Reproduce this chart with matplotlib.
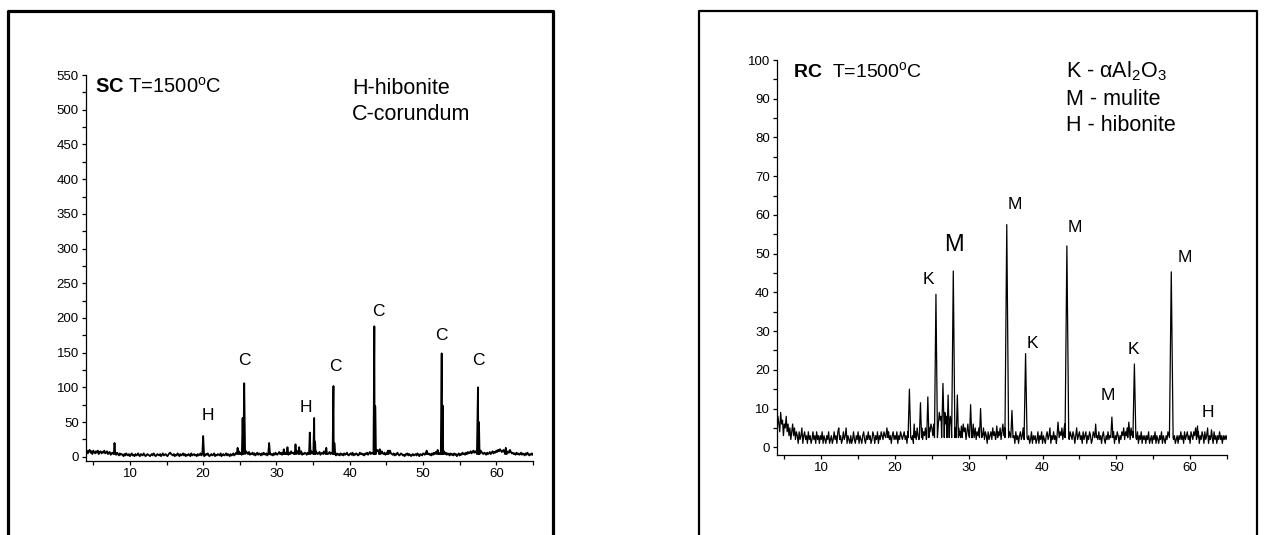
import numpy as np
import matplotlib.pyplot as plt
from matplotlib.lines import Line2D
from matplotlib.ticker import MultipleLocator

plt.rcParams['font.family'] = 'Liberation Sans'
plt.rcParams['mathtext.fontset'] = 'custom'
plt.rcParams['mathtext.rm'] = 'Liberation Sans'
plt.rcParams['mathtext.bf'] = 'Liberation Sans:bold'
plt.rcParams['mathtext.default'] = 'regular'

# 2-theta grid of the background readings
two_theta = np.arange(4.0, 65.001, 0.125)

# SC sample, background counts (4.000 .. 65.000 step 0.125)
sc_base = [
    7, 9, 5, 8, 10, 6, 8, 4, 9, 7, 5, 8, 6, 9, 4, 7, 8, 5, 7, 6, 9, 5, 6, 8, 4, 6, 7, 3, 5, 6, 4, 7, 5, 3, 6, 4, 2, 5, 3, 4,
    3, 1, 4, 2, 5, 3, 2, 4, 1, 3, 5, 2, 3, 1, 4, 2, 3, 5, 2, 1, 4, 3, 2, 5, 3, 1, 2, 4, 3, 2, 1, 3, 4, 2, 5, 3, 1, 2, 4, 3,
    2, 4, 1, 3, 5, 2, 3, 4, 2, 1, 3, 5, 6, 4, 3, 2, 4, 1, 3, 2, 5, 3, 1, 4, 2, 3, 5, 2, 4, 1, 3, 2, 4, 3, 1, 5, 2, 3, 4, 2,
    3, 1, 4, 2, 3, 5, 2, 4, 3, 1, 2, 4, 3, 5, 2, 1, 3, 4, 2, 3, 5, 1, 3, 2, 4, 3, 2, 5, 1, 3, 4, 2, 3, 5, 2, 4, 3, 1, 4, 2,
    3, 5, 2, 4, 6, 3, 5, 8, 4, 6, 3, 5, 7, 4, 6, 8, 5, 4, 7, 3, 5, 4, 6, 3, 5, 2, 4, 6, 3, 5, 4, 2, 5, 3, 6, 4, 3, 5, 2, 4,
    6, 5, 3, 4, 2, 5, 3, 6, 4, 3, 5, 7, 4, 6, 3, 5, 8, 6, 4, 7, 5, 3, 6, 4, 8, 5, 6, 4, 7, 5, 9, 6, 4, 7, 5, 8, 3, 5, 4, 6,
    5, 3, 6, 4, 7, 5, 8, 6, 7, 9, 12, 8, 6, 4, 5, 7, 3, 5, 6, 4, 8, 5, 6, 9, 4, 5, 7, 4, 6, 5, 3, 6, 4, 2, 5, 3, 4, 2, 5, 3,
    4, 2, 5, 3, 4, 6, 3, 2, 4, 5, 3, 6, 2, 4, 3, 5, 4, 2, 3, 6, 4, 5, 3, 4, 2, 5, 4, 6, 3, 5, 7, 4, 6, 5, 8, 6, 9, 7, 10, 8,
    9, 7, 6, 8, 5, 4, 6, 3, 5, 7, 6, 8, 9, 5, 4, 3, 5, 2, 4, 3, 6, 4, 2, 3, 5, 4, 2, 3, 1, 4, 3, 5, 2, 4, 3, 1, 3, 4, 2, 3,
    4, 2, 5, 3, 1, 4, 3, 2, 5, 4, 3, 6, 2, 4, 5, 3, 4, 2, 5, 3, 6, 4, 7, 5, 8, 6, 4, 5, 3, 7, 5, 8, 4, 6, 3, 5, 4, 2, 5, 3,
    4, 2, 5, 3, 4, 1, 3, 5, 2, 4, 3, 6, 4, 5, 3, 6, 4, 7, 5, 6, 8, 5, 7, 9, 6, 8, 7, 10, 12, 8, 6, 9, 7, 5, 4, 6, 5, 3, 6, 4,
    5, 7, 4, 6, 8, 5, 7, 6, 9, 7, 10, 8, 11, 9, 7, 8, 10, 6, 9, 7, 5, 8, 6, 10, 7, 5, 6, 4, 5, 3, 6, 4, 5, 3, 4, 6, 3, 5, 4, 2,
    5, 3, 6, 4, 2, 4, 3, 5, 3,
]
sc_peak_pos = [7.9, 20.0, 24.7, 25.38, 25.6, 29.0, 31.0, 31.5, 32.6, 33.1,
               34.55, 35.15, 35.27, 36.8, 37.78, 37.9, 43.36, 43.48, 44.1,
               45.2, 50.5, 52.0, 52.55, 52.68, 57.5, 57.64, 61.3]
sc_peak_top = [20, 30, 13, 56, 106, 20, 11, 14, 18, 14,
               35, 56, 22, 13, 102, 20, 188, 73, 11,
               9, 9, 10, 149, 74, 100, 50, 13]
sc_peak_half = [0.1, 0.12, 0.1, 0.1, 0.12, 0.12, 0.1, 0.1, 0.1, 0.1,
                0.1, 0.12, 0.08, 0.1, 0.12, 0.08, 0.12, 0.08, 0.1,
                0.1, 0.1, 0.1, 0.12, 0.08, 0.14, 0.08, 0.1]

sc_label_text = ['H', 'C', 'H', 'C', 'C', 'C', 'C']
sc_label_x = [20.6, 25.6, 34.0, 38.06, 43.85, 52.55, 57.58]
sc_label_y = [53, 132, 65, 123, 203, 168, 132]

# RC sample
rc_base = [
    5, 8, 6, 4, 9, 6, 7, 3, 6, 5, 8, 4, 6, 3, 5, 2, 4, 6, 3, 5, 2, 4, 3, 1, 4, 2, 3, 5, 1, 3, 4, 2, 3, 1, 4, 2, 3, 1, 2, 4,
    2, 3, 1, 4, 2, 3, 1, 3, 2, 4, 1, 3, 2, 1, 3, 2, 4, 1, 2, 3, 1, 2, 4, 2, 3, 1, 4, 5, 2, 3, 1, 2, 4, 2, 3, 5, 1, 3, 2, 1,
    3, 1, 2, 4, 2, 1, 3, 2, 4, 1, 3, 2, 1, 3, 4, 2, 1, 3, 2, 4, 2, 3, 1, 2, 4, 3, 1, 3, 2, 4, 1, 3, 2, 4, 3, 2, 4, 3, 2, 5,
    3, 4, 2, 3, 1, 3, 4, 2, 3, 2, 4, 1, 3, 2, 4, 3, 2, 3, 4, 2, 3, 1, 4, 2, 3, 4, 2, 3, 1, 3, 4, 2, 5, 3, 2, 4, 3, 5, 2, 4,
    3, 5, 2, 4, 3, 5, 4, 6, 5, 3, 6, 4, 7, 5, 8, 6, 9, 7, 8, 6, 10, 7, 9, 6, 8, 5, 7, 6, 8, 5, 7, 4, 6, 5, 3, 6, 4, 5, 3, 4,
    5, 3, 6, 4, 5, 2, 4, 6, 3, 5, 4, 2, 6, 4, 3, 5, 2, 4, 3, 5, 3, 4, 2, 3, 5, 2, 4, 3, 1, 4, 2, 3, 4, 2, 5, 3, 4, 2, 3, 5,
    4, 3, 5, 2, 4, 6, 3, 5, 4, 6, 5, 7, 4, 3, 5, 2, 4, 3, 1, 4, 2, 3, 1, 3, 4, 2, 3, 5, 2, 3, 1, 4, 2, 3, 1, 2, 4, 1, 3, 2,
    3, 1, 2, 4, 1, 3, 2, 4, 1, 3, 2, 1, 3, 4, 2, 3, 5, 1, 3, 2, 4, 2, 3, 1, 4, 3, 2, 4, 3, 5, 2, 4, 6, 3, 5, 4, 3, 2, 4, 3,
    2, 4, 3, 1, 3, 5, 2, 3, 4, 2, 3, 1, 4, 2, 3, 4, 1, 3, 2, 4, 3, 1, 2, 4, 3, 2, 1, 3, 2, 4, 2, 3, 1, 3, 4, 2, 1, 3, 2, 4,
    2, 3, 1, 3, 2, 4, 1, 3, 2, 4, 3, 1, 3, 2, 4, 3, 5, 2, 4, 3, 5, 3, 4, 2, 5, 3, 4, 2, 3, 5, 2, 4, 1, 3, 2, 4, 1, 3, 2, 3,
    1, 3, 2, 4, 1, 2, 3, 1, 3, 2, 4, 1, 3, 2, 1, 3, 2, 4, 1, 3, 2, 1, 3, 2, 4, 3, 1, 2, 3, 4, 2, 3, 1, 2, 3, 1, 3, 2, 4, 2,
    3, 1, 4, 2, 3, 4, 2, 3, 1, 4, 3, 2, 4, 3, 5, 2, 3, 4, 1, 3, 2, 4, 3, 1, 4, 2, 3, 5, 1, 3, 2, 4, 3, 1, 4, 2, 3, 1, 3, 2,
    4, 2, 3, 1, 3, 2, 3, 2, 3,
]
rc_peak_pos = [18.9, 21.95, 22.6, 23.45, 24.45, 25.55, 26.5, 27.2, 27.9, 28.45,
               29.0, 30.25, 30.6, 31.6, 33.8, 35.15, 35.85, 37.7, 42.1, 43.3,
               47.2, 49.4, 51.7, 52.45, 57.45, 61.0, 62.9]
rc_peak_top = [5, 15, 6, 11.5, 13, 39.5, 16.5, 13.5, 45.5, 13.5,
               5.5, 11, 6, 10, 5.5, 57.5, 9.5, 24.2, 6.5, 52,
               6, 7.8, 6.5, 21.5, 45.3, 5.5, 4.5]
rc_peak_half = [0.15, 0.18, 0.1, 0.15, 0.15, 0.2, 0.18, 0.15, 0.22, 0.15,
                0.12, 0.15, 0.12, 0.15, 0.12, 0.25, 0.15, 0.2, 0.15, 0.25,
                0.12, 0.15, 0.15, 0.2, 0.25, 0.12, 0.1]

rc_label_text = ['K', 'M', 'M', 'K', 'M', 'M', 'K', 'M', 'H']
rc_label_x = [24.5, 28.0, 36.24, 38.66, 44.4, 48.87, 52.3, 59.33, 62.4]
rc_label_y = [42.1, 50.7, 61.6, 25.75, 55.7, 12.1, 24.0, 47.8, 7.9]
rc_label_size = [12.5, 17, 12.5, 12.5, 12.5, 12.5, 12.5, 12.5, 12.5]


def trace(base, pos, top, half, foot):
    base = np.asarray(base, float)
    keep = np.ones(len(two_theta), bool)
    for p, w in zip(pos, half):
        keep &= np.abs(two_theta - p) > w
    x = list(two_theta[keep])
    y = list(base[keep])
    for p, h, w in zip(pos, top, half):
        x += [p - w, p, p + w]
        y += [foot, h, foot]
    x = np.array(x)
    y = np.array(y)
    order = np.argsort(x, kind='stable')
    return x[order], y[order]


def style(ax, ymin, ymax, major, minor):
    ax.set_xlim(4, 65)
    ax.set_ylim(ymin, ymax)
    ax.xaxis.set_major_locator(MultipleLocator(10))
    ax.xaxis.set_minor_locator(MultipleLocator(5))
    ax.yaxis.set_major_locator(MultipleLocator(major))
    ax.yaxis.set_minor_locator(MultipleLocator(minor))
    for s in ['top', 'right']:
        ax.spines[s].set_visible(False)
    for s in ['left', 'bottom']:
        ax.spines[s].set_linewidth(0.9)
    ax.tick_params(which='both', direction='out', length=3.2, width=0.9,
                   labelsize=9.5, pad=2)
    ax.patch.set_alpha(0)


fig = plt.figure(figsize=(12.64, 5.35), dpi=100)

# frames round each panel, open at the bottom
fig.add_artist(Line2D([0.0063, 0.0063, 0.4375, 0.4375], [-0.05, 0.9794, 0.9794, -0.05],
                      transform=fig.transFigure, color='black', lw=2.3))
fig.add_artist(Line2D([0.553, 0.553, 0.9945, 0.9945], [-0.05, 0.9794, 0.9794, -0.05],
                      transform=fig.transFigure, color='black', lw=1.6))

ax1 = fig.add_axes([0.068, 0.1383, 0.3536, 0.7215])
x, y = trace(sc_base, sc_peak_pos, sc_peak_top, sc_peak_half, 4)
ax1.plot(x, y, color='black', lw=1.3)
style(ax1, -6, 550, 50, 25)
ax1.text(5.17, 525, r'$\mathbf{SC}$ T=1500$^o$C', fontsize=14.5, va='baseline')
ax1.text(40.3, 523, 'H-hibonite', fontsize=15.5, va='baseline')
ax1.text(40.3, 485, 'C-corundum', fontsize=15.5, va='baseline')
for t, lx, ly in zip(sc_label_text, sc_label_x, sc_label_y):
    ax1.text(lx, ly, t, fontsize=12.5, ha='center', va='baseline')

ax2 = fig.add_axes([0.6147, 0.1495, 0.356, 0.7383])
x, y = trace(rc_base, rc_peak_pos, rc_peak_top, rc_peak_half, 2.5)
ax2.plot(x, y, color='black', lw=0.9)
style(ax2, -2, 100, 10, 5)
ax2.text(6.15, 95.6, r'$\mathbf{RC}$  T=1500$^o$C', fontsize=14, va='baseline')
ax2.text(43.16, 95.6, r'K - αAl$_2$O$_3$', fontsize=15.5, va='baseline')
ax2.text(43.16, 88.4, 'M - mulite', fontsize=15.5, va='baseline')
ax2.text(43.16, 81.7, 'H - hibonite', fontsize=15.5, va='baseline')
for t, lx, ly, fs in zip(rc_label_text, rc_label_x, rc_label_y, rc_label_size):
    ax2.text(lx, ly, t, fontsize=fs, ha='center', va='baseline')

fig.savefig('out.png', dpi=100)
